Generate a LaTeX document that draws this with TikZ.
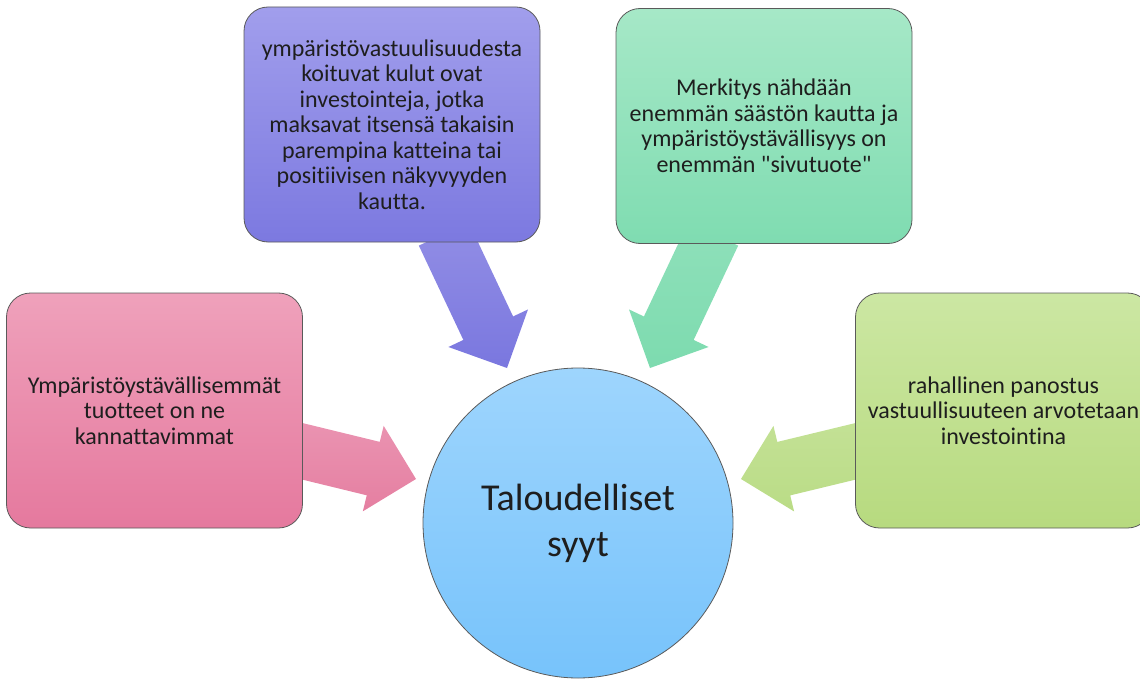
\documentclass[tikz,border=0pt]{standalone}
\usepackage{fontspec}
\setmainfont{Carlito}[Ligatures=NoCommon]
\usetikzlibrary{calc,backgrounds}
\newcommand\sq{\XeTeXglyph\XeTeXcharglyph"22\relax}
\definecolor{bordergray}{HTML}{5A5A5A}
\definecolor{txt}{HTML}{1E1E1E}
\definecolor{puT}{HTML}{A19EEC}
\definecolor{puB}{HTML}{7C79E0}
\definecolor{grT}{HTML}{A6E8C7}
\definecolor{grB}{HTML}{7FDCB1}
\definecolor{piT}{HTML}{EFA1BB}
\definecolor{piB}{HTML}{E5799E}
\definecolor{lgT}{HTML}{CCE7A3}
\definecolor{lgB}{HTML}{B7DA7F}
\definecolor{ciT}{HTML}{9ED5FD}
\definecolor{ciB}{HTML}{77C3FB}
\definecolor{apuT}{HTML}{928EE5}
\definecolor{apuB}{HTML}{7A77DF}
\definecolor{agrT}{HTML}{8FE0BA}
\definecolor{agrB}{HTML}{7DDBAF}
\definecolor{apiT}{HTML}{EA93B1}
\definecolor{apiB}{HTML}{E57FA1}
\definecolor{algT}{HTML}{C3E195}
\definecolor{algB}{HTML}{BADC86}
\newcommand\blockarrow[3]{%
  \coordinate (#1-base) at ($(#2)!44pt!(#1)$);
  \path[#3] ($(#1)!27.5pt!90:(#2)$) -- ($(#1-base)!27.5pt!-90:(#1)$)
    -- ($(#1-base)!44pt!-90:(#1)$) -- (#2)
    -- ($(#1-base)!44pt!90:(#1)$) -- ($(#1-base)!27.5pt!90:(#1)$)
    -- ($(#1)!27.5pt!-90:(#2)$) -- cycle;}
\begin{document}
\begin{tikzpicture}[x=1pt,y=-1pt,
  box/.style={draw=bordergray, line width=0.8pt, rounded corners=24pt,
    minimum width=296pt, minimum height=235pt, align=center, text=txt,
    font=\fontsize{24}{25.5}\selectfont, inner sep=0pt},
  hub/.style={circle, draw=bordergray, line width=0.8pt, minimum size=310pt,
    align=center, text=txt, font=\fontsize{38}{46}\selectfont, inner sep=0pt,
    top color=ciT, bottom color=ciB}]
\useasboundingbox (0,0) rectangle (1140,679);
\clip (0,0) rectangle (1140,679);

\node[box, top color=puT, bottom color=puB] (pu) at (392,124.5)
  {ympäristövastuulisuudesta\\koituvat kulut ovat\\investointeja, jotka\\maksavat itsensä takaisin\\parempina katteina tai\\positiivisen näkyvyyden\\kautta.};
\node[box, top color=grT, bottom color=grB] (gr) at (764,126)
  {Merkitys nähdään\\enemmän säästön kautta ja\\ympäristöystävällisyys on\\enemmän \sq sivutuote\sq};
\node[box, top color=piT, bottom color=piB] (pi) at (154.5,410.5)
  {Ympäristöystävällisemmät\\tuotteet on ne\\kannattavimmat};
\node[box, top color=lgT, bottom color=lgB] (lg) at (1003.5,410.5)
  {rahallinen panostus\\vastuullisuuteen arvotetaan\\investointina};
\node[hub] (c) at (578,523) {Taloudelliset\\syyt};

\coordinate (puTail) at ($(pu.south)+(51.7,-8.5)$);
\coordinate (puTip) at (507,368);
\coordinate (grTail) at ($(gr.south)+(-50.7,-10)$);
\coordinate (grTip) at (650,368);
\coordinate (piTail) at ($(pi.east)+(-10,38.5)$);
\coordinate (piTip) at (416,479);
\coordinate (lgTail) at ($(lg.west)+(10,38.5)$);
\coordinate (lgTip) at (741,479);

\begin{scope}[on background layer]
\blockarrow{puTail}{puTip}{top color=apuT, bottom color=apuB}
\blockarrow{grTail}{grTip}{top color=agrT, bottom color=agrB}
\blockarrow{piTail}{piTip}{top color=apiT, bottom color=apiB}
\blockarrow{lgTail}{lgTip}{top color=algT, bottom color=algB}
\end{scope}
\end{tikzpicture}
\end{document}
